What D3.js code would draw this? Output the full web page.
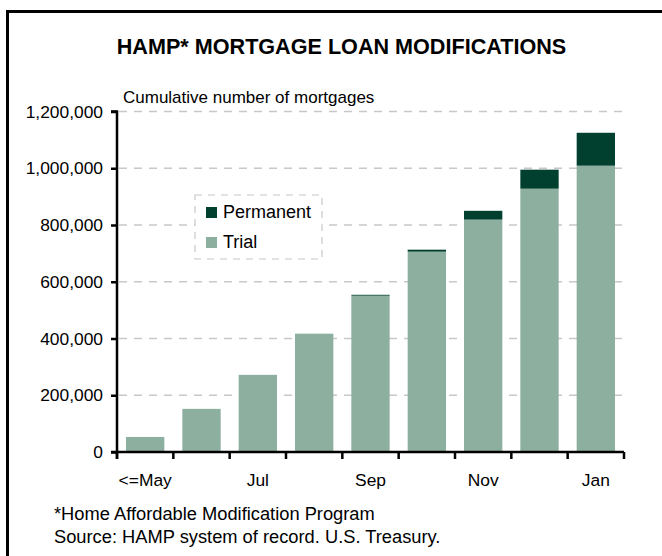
<!DOCTYPE html>
<html>
<head>
<meta charset="utf-8">
<script src="https://cdn.jsdelivr.net/npm/d3@7"></script>
<style>
  html, body { margin: 0; padding: 0; background: #fff; }
  svg { display: block; font-family: Arial, "Liberation Sans", sans-serif; }
</style>
</head>
<body>
<svg id="chart" width="662" height="556"></svg>
<script>
// Monthly cumulative HAMP modifications
const months = ["May", "Jun", "Jul", "Aug", "Sep", "Oct", "Nov", "Dec", "Jan"];
const monthLabels = ["<=May", "", "Jul", "", "Sep", "", "Nov", "", "Jan"];
const trial = [53000, 152000, 272000, 417000, 551000, 706000, 819000, 928000, 1009000];
const permanent = [0, 0, 0, 0, 3000, 7000, 31000, 67000, 116000];
const yTicks = [0, 200000, 400000, 600000, 800000, 1000000, 1200000];
const seriesNames = ["Permanent", "Trial"];
const seriesColors = { Trial: "#8caf9f", Permanent: "#013f2f" };

const svg = d3.select("#chart");

// Outer frame (left and top rules)
svg.append("line").attr("x1", 7.5).attr("x2", 7.5).attr("y1", 10).attr("y2", 556)
  .attr("stroke", "#000").attr("stroke-width", 3);
svg.append("line").attr("x1", 6).attr("x2", 662).attr("y1", 11.5).attr("y2", 11.5)
  .attr("stroke", "#000").attr("stroke-width", 3);

// Title
svg.append("text").attr("x", 341.5).attr("y", 54).attr("text-anchor", "middle")
  .attr("font-size", 21.6).attr("font-weight", "bold").attr("fill", "#000")
  .text("HAMP* MORTGAGE LOAN MODIFICATIONS");

const x = d3.scaleBand().domain(months).range([117, 624]).paddingInner(0.32).paddingOuter(0.16);
const y = d3.scaleLinear().domain([0, 1200000]).range([452, 111.5]);

// Dashed gridlines
svg.append("g").selectAll("line").data(yTicks.filter(d => d > 0)).join("line")
  .attr("x1", 119).attr("x2", 622)
  .attr("y1", d => y(d)).attr("y2", d => y(d))
  .attr("stroke", "#c8c8c8").attr("stroke-width", 1.5).attr("stroke-dasharray", "8,7");

// Stacked bars
const rows = months.map((m, i) => ({ month: m, Trial: trial[i], Permanent: permanent[i] }));
const stack = d3.stack().keys(["Trial", "Permanent"])(rows);
svg.append("g").selectAll("g").data(stack).join("g")
  .attr("fill", s => seriesColors[s.key])
  .selectAll("rect").data(s => s).join("rect")
  .attr("x", d => x(d.data.month))
  .attr("width", x.bandwidth())
  .attr("y", d => y(d[1]))
  .attr("height", d => y(d[0]) - y(d[1]));

// Y axis
const yAxis = svg.append("g").attr("transform", "translate(117,0)")
  .call(d3.axisLeft(y).tickValues(yTicks).tickSize(6).tickPadding(8).tickFormat(d3.format(",")));
yAxis.select(".domain").attr("stroke", "#000").attr("stroke-width", 2.5)
  .attr("d", `M-6,${y(1200000)}H0V${y(0) + 7}`);
yAxis.selectAll(".tick line").attr("stroke", "#000").attr("stroke-width", 2.5);
yAxis.selectAll(".tick text").attr("font-size", 17.4).attr("fill", "#000")
  .attr("font-family", "Arial, 'Liberation Sans', sans-serif");

// X axis: labels centered on bars, ticks on band boundaries
const xAxis = svg.append("g").attr("transform", `translate(0,${y(0)})`)
  .call(d3.axisBottom(x).tickSize(0).tickPadding(22).tickFormat((d, i) => monthLabels[i]));
xAxis.select(".domain").remove();
xAxis.selectAll(".tick text").attr("font-size", 17.4).attr("fill", "#000")
  .attr("font-family", "Arial, 'Liberation Sans', sans-serif");
const boundaries = months.map(m => x(m) - x.step() * x.paddingInner() / 2).concat([x.range()[1]]);
const xLine = svg.append("g").attr("transform", `translate(0,${y(0)})`);
xLine.append("line").attr("x1", 111).attr("x2", 624).attr("stroke", "#000").attr("stroke-width", 2.5);
xLine.selectAll("line.tk").data(boundaries).join("line").attr("class", "tk")
  .attr("x1", d => d).attr("x2", d => d).attr("y1", 0).attr("y2", 7)
  .attr("stroke", "#000").attr("stroke-width", 2.5);

// Axis caption
svg.append("text").attr("x", 123).attr("y", 103).attr("font-size", 17).attr("fill", "#000")
  .text("Cumulative number of mortgages");

// Legend
const lg = svg.append("g");
lg.append("rect").attr("x", 195).attr("y", 195).attr("width", 127).attr("height", 64)
  .attr("fill", "#fff").attr("stroke", "#c8c8c8").attr("stroke-width", 1.2).attr("stroke-dasharray", "7,6");
seriesNames.forEach((name, i) => {
  lg.append("rect").attr("x", 206).attr("y", 207 + i * 30).attr("width", 11).attr("height", 11)
    .attr("fill", seriesColors[name]);
  lg.append("text").attr("x", 223).attr("y", 218 + i * 30).attr("font-size", 18).attr("fill", "#000")
    .text(name);
});

// Footnotes
svg.append("text").attr("x", 54).attr("y", 520).attr("font-size", 18.3).attr("fill", "#000")
  .text("*Home Affordable Modification Program");
svg.append("text").attr("x", 54).attr("y", 543).attr("font-size", 18.3).attr("fill", "#000")
  .text("Source: HAMP system of record. U.S. Treasury.");
</script>
</body>
</html>
